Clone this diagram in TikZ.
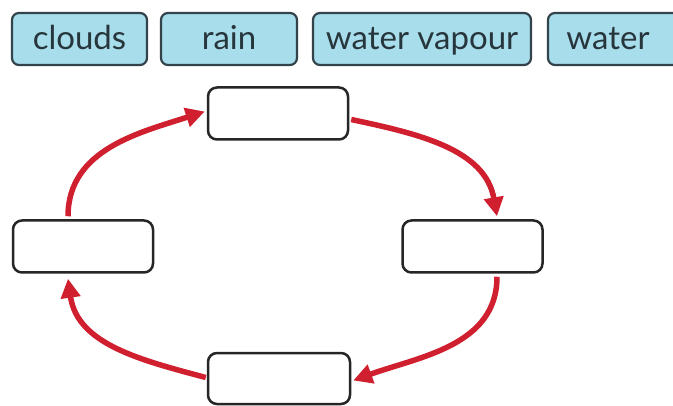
\documentclass[tikz,border=0pt]{standalone}
\usepackage{fontspec}
\setmainfont{Lato}
\usetikzlibrary{arrows.meta}
\definecolor{lblfill}{HTML}{A8DDEB}
\definecolor{lbldraw}{HTML}{33434A}
\definecolor{lbltext}{HTML}{27353C}
\definecolor{cycred}{HTML}{D0202F}
\tikzset{
  label box/.style={draw=lbldraw, line width=2.2pt, fill=lblfill, rounded corners=7pt,
    minimum height=52pt, inner sep=0pt},
  label text/.style={text=lbltext, font=\fontsize{33}{37}\selectfont,
    text height=28pt, text depth=6pt},
  blank box/.style={draw=black!85, line width=2.5pt, fill=white, rounded corners=9pt,
    minimum width=140pt, minimum height=52pt, inner sep=0pt},
  cyc arrow/.style={draw=cycred, line width=5.5pt,
    -{Triangle[length=19pt,width=19pt]}},
}
\begin{document}
\begin{tikzpicture}[x=1pt,y=1pt]
\clip (0,0) rectangle (673,405);
\fill[white] (0,0) rectangle (673,405);
% word boxes
\node[label box, minimum width=135pt, label text] (clouds) at (79.5,366) {clouds};
\node[label box, minimum width=136pt, label text] (rain) at (229,366) {rain};
\node[label box, minimum width=218pt, label text] (vapour) at (422,366) {water vapour};
\node[label box, minimum width=150pt] (waterbox) at (623,366) {};
\node[label text, anchor=center] (water) at (608,366) {water};
% cycle boxes
\node[blank box] (top) at (278,291.5) {};
\node[blank box] (left) at (83,158.5) {};
\node[blank box] (right) at (472.5,158.5) {};
\node[blank box, minimum width=142pt, minimum height=51pt] (bottom) at (279,26.5) {};
% connector ends
\coordinate (a1s) at ([xshift=-15pt,yshift=3pt]left.north);
\coordinate (a1e) at ([xshift=-2pt,yshift=2pt]top.west);
\coordinate (a2s) at ([xshift=2pt,yshift=-6pt]top.east);
\coordinate (a2e) at ([xshift=24.5pt,yshift=3pt]right.north);
\coordinate (a3s) at ([xshift=24.5pt,yshift=-3pt]right.south);
\coordinate (a3e) at ([xshift=2pt,yshift=-2pt]bottom.east);
\coordinate (a4s) at ([xshift=-1pt,yshift=1pt]bottom.west);
\coordinate (a4e) at ([xshift=-15pt,yshift=-5pt]left.south);
\draw[cyc arrow] (a1s) to[out=90,in=198] (a1e);
\draw[cyc arrow] (a2s) to[out=-12,in=100] (a2e);
\draw[cyc arrow] (a3s) to[out=-90,in=20] (a3e);
\draw[cyc arrow] (a4s) to[out=165,in=-82] (a4e);
\end{tikzpicture}
\end{document}
